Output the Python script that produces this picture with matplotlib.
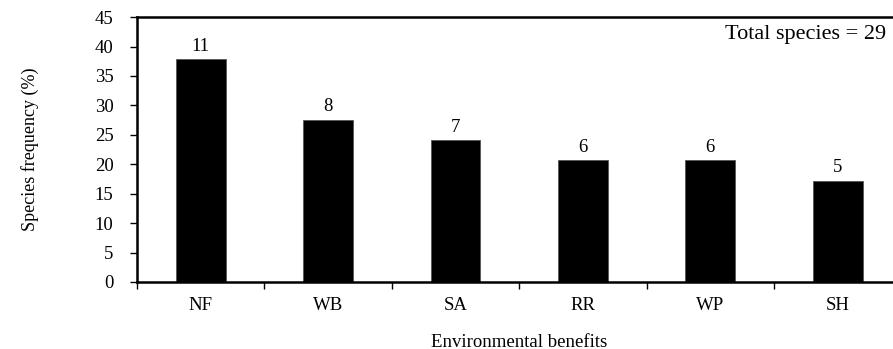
import numpy as np
import matplotlib.pyplot as plt
from matplotlib.ticker import FixedLocator

plt.rcParams['font.family'] = ['Liberation Serif', 'DejaVu Serif']

# species counts per environmental benefit (29 species in total)
benefits = ['NF', 'WB', 'SA', 'RR', 'WP', 'SH']
counts = [11, 8, 7, 6, 6, 5]
total_species = 29
freq = [100.0 * c / total_species for c in counts]

fig = plt.figure(figsize=(8.93, 3.49), dpi=100)
ax = fig.add_axes([0.1534, 0.192, 0.856, 0.759])

x = np.arange(len(benefits))
bars = ax.bar(x, freq, width=0.39, color='black', edgecolor='#555555', linewidth=0.6)

for xi, f, c in zip(x, freq, counts):
    ax.text(xi, f + 0.7, str(c), ha='center', va='bottom', fontsize=13.5)

ax.set_xlim(-0.5, 5.5)
ax.set_ylim(0, 45)
ax.set_yticks(np.arange(0, 46, 5))
ax.set_xticks(x)
ax.set_xticklabels(benefits)
ax.xaxis.set_minor_locator(FixedLocator(np.arange(-0.5, 6, 1.0)))
ax.tick_params(axis='x', which='major', length=0, pad=11, labelsize=13.5)
ax.tick_params(axis='x', which='minor', length=5, width=1)
ax.tick_params(axis='y', length=5, width=1, labelsize=13.5, pad=12)

for side in ['left', 'bottom', 'top']:
    ax.spines[side].set_linewidth(1.8)
ax.spines['right'].set_visible(False)

ax.set_ylabel('Species frequency (%)', fontsize=13, labelpad=40)
ax.set_xlabel('Environmental benefits', fontsize=13.5, labelpad=14)

fig.text(0.992, 0.90, 'Total species = 29', ha='right', va='center', fontsize=16)

fig.savefig('out.png', dpi=100)
